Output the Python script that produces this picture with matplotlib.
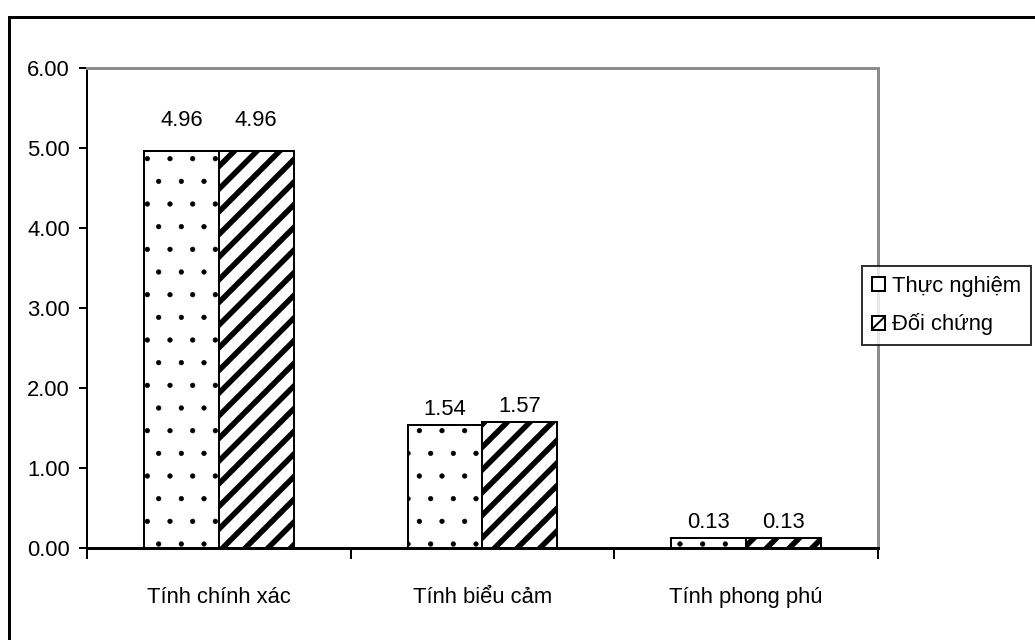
import matplotlib
matplotlib.use('Agg')
import matplotlib.pyplot as plt
from matplotlib.patches import Rectangle

plt.rcParams['font.family'] = ['Liberation Sans Narrow', 'Liberation Sans', 'DejaVu Sans']

# Scores per criterion for the two groups
categories = ['Tính chính xác', 'Tính biểu cảm', 'Tính phong phú']
series_names = ['Thực nghiệm', 'Đối chứng']
thuc_nghiem = [4.96, 1.54, 0.13]
doi_chung = [4.96, 1.57, 0.13]
y_ticks = [0.0, 1.0, 2.0, 3.0, 4.0, 5.0, 6.0]

# higher dpi spreads the hatch patterns out; sizes below are given in pixels
DPI = 136
W, H = 1035, 640


def px(v):
    return v * 72.0 / DPI


FS = px(22)

fig = plt.figure(figsize=(W / DPI, H / DPI), dpi=DPI)
ax = fig.add_axes([87 / W, 92 / H, 791 / W, 480 / H])

x = list(range(len(categories)))
w = 0.284

with plt.rc_context({'hatch.linewidth': px(0.6), 'hatch.color': '#555555'}):
    b1 = ax.bar([i - w / 2 for i in x], thuc_nghiem, w, color='white',
                edgecolor='black', linewidth=px(2), hatch='.', label=series_names[0])
with plt.rc_context({'hatch.linewidth': px(5.5), 'hatch.color': 'black'}):
    b2 = ax.bar([i + w / 2 for i in x], doi_chung, w, color='white',
                edgecolor='black', linewidth=px(2), hatch='//', label=series_names[1])

# value labels above each bar
label_gap = [px(20), px(5), px(5)]
for bars, vals in ((b1, thuc_nghiem), (b2, doi_chung)):
    for i, (bar, v) in enumerate(zip(bars, vals)):
        ax.annotate(f'{v:.2f}', (bar.get_x() + bar.get_width() / 2, v),
                    xytext=(0, label_gap[i]), textcoords='offset points',
                    ha='center', va='bottom', fontsize=FS)

ax.set_xlim(-0.5, len(categories) - 0.5)
ax.set_ylim(0, 6)
ax.set_yticks(y_ticks)
ax.set_yticklabels([f'{v:.2f}' for v in y_ticks], fontsize=FS)
ax.tick_params(axis='y', direction='out', length=px(8), width=px(2), pad=px(9))

# category boundaries get the tick marks, names sit at the centres
ax.set_xticks([i - 0.5 for i in range(len(categories) + 1)])
ax.set_xticklabels([])
ax.tick_params(axis='x', which='major', direction='out', length=px(11), width=px(2))
ax.set_xticks(x, minor=True)
ax.set_xticklabels(categories, minor=True, fontsize=FS)
ax.tick_params(axis='x', which='minor', length=0, pad=px(39))

ax.spines['left'].set_linewidth(px(2))
ax.spines['bottom'].set_linewidth(px(3))
for side in ('top', 'right'):
    ax.spines[side].set_color('#8c8c8c')
    ax.spines[side].set_linewidth(px(3))

leg = ax.legend(loc='upper left', bbox_to_anchor=(862 / W, 1 - 266 / H),
                bbox_transform=fig.transFigure, fontsize=FS, frameon=True,
                fancybox=False, edgecolor='black', handlelength=0.6,
                handleheight=0.6, handletextpad=0.3, labelspacing=0.75,
                borderpad=0.45, borderaxespad=0)
leg.get_frame().set_linewidth(px(2))

# outer chart frame
fig.add_artist(Rectangle((9 / W, -0.05), 1.2, 1.05 - 17 / H,
                         transform=fig.transFigure, fill=False,
                         edgecolor='black', linewidth=px(3)))

fig.savefig('out.png', dpi=DPI)
